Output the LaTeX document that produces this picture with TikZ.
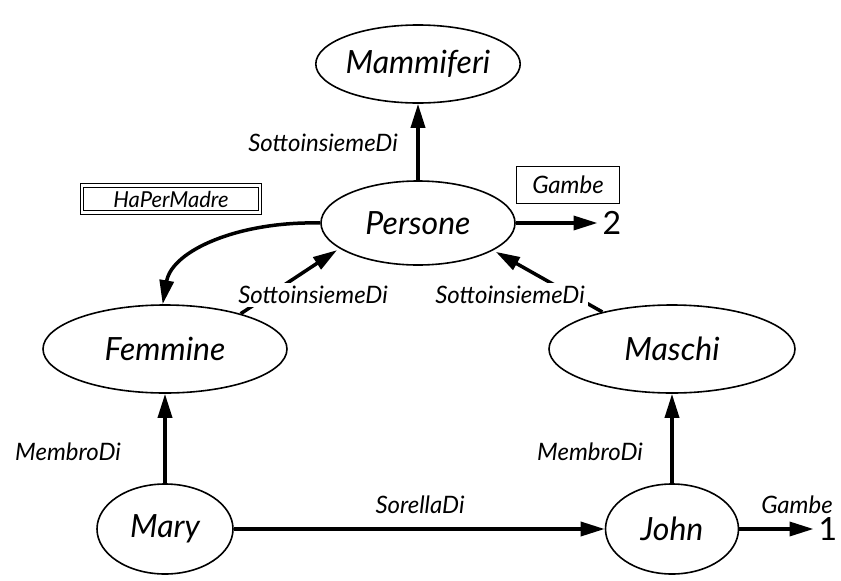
\documentclass[tikz,border=0pt]{standalone}
\usepackage{fontspec}
\setmainfont{Lato}
\usetikzlibrary{shapes.geometric,arrows.meta}
\begin{document}
\begin{tikzpicture}[x=1pt,y=-1pt,
  ell/.style={ellipse, draw, line width=1.6pt, inner sep=0pt, font=\fontsize{32}{36}\selectfont\itshape},
  lbl/.style={inner sep=1pt, font=\fontsize{24}{27}\selectfont\itshape},
  num/.style={inner sep=1pt, font=\fontsize{32}{36}\selectfont},
  arr/.style={line width=3.5pt, -{Triangle[length=24pt,width=14pt]}},
  boxnode/.style={draw, line width=1.3pt, minimum width=103pt, minimum height=37pt, inner sep=0pt, font=\fontsize{24}{27}\selectfont\itshape},
  dboxnode/.style={draw, line width=1pt, double, double distance=2.5pt, minimum width=178pt, minimum height=27pt, inner sep=0pt, font=\fontsize{22}{26}\selectfont\itshape},
]
\useasboundingbox (0,0) rectangle (841,581);

% nodes
\node[ell, minimum width=194pt, minimum height=78pt] (mam) at (418,64) {Mammiferi};
\node[ell, minimum width=194pt, minimum height=84pt] (per) at (418,223) {Persone};
\node[ell, minimum width=244pt, minimum height=88pt] (fem) at (165,349) {Femmine};
\node[ell, minimum width=246pt, minimum height=88pt] (masc) at (672,349) {Maschi};
\node[ell, minimum width=136pt, minimum height=90pt] (mary) at (165,529) {Mary};
\node[ell, minimum width=133pt, minimum height=90pt] (john) at (672,529) {John};

\node[num] (two) at (612,223) {2};
\node[num] (one) at (828,529) {1};
\node[boxnode] (gb) at (568,185) {Gambe};
\node[dboxnode] (hpm) at (171,199) {HaPerMadre};

% connectors
\draw[arr] (per) -- (mam);
\node[lbl] (l1) at (323,143) {SottoinsiemeDi};

\draw[arr, shorten >=4pt] (per) -- (two);
\draw[arr, shorten >=4pt] (john) -- (one);
\node[lbl] (l2) at (797,505) {Gambe};

\draw[arr] (per.west) .. controls (240,221) and (172,250) .. (fem.93);

\draw[arr, shorten >=3pt] (fem.25) -- (per.198);
\node[lbl, fill=white, inner sep=3pt] (l3) at (313,295) {SottoinsiemeDi};
\draw[arr, shorten >=3pt] (masc.152) -- (per.340);
\node[lbl, fill=white, inner sep=3pt] (l4) at (510,295) {SottoinsiemeDi};

\draw[arr] (mary) -- (fem);
\node[lbl] (l5) at (68,452) {MembroDi};
\draw[arr] (john) -- (masc);
\node[lbl] (l6) at (590,452) {MembroDi};

\draw[arr] (mary) -- (john);
\node[lbl] (l7) at (420,505) {SorellaDi};
\end{tikzpicture}
\end{document}
